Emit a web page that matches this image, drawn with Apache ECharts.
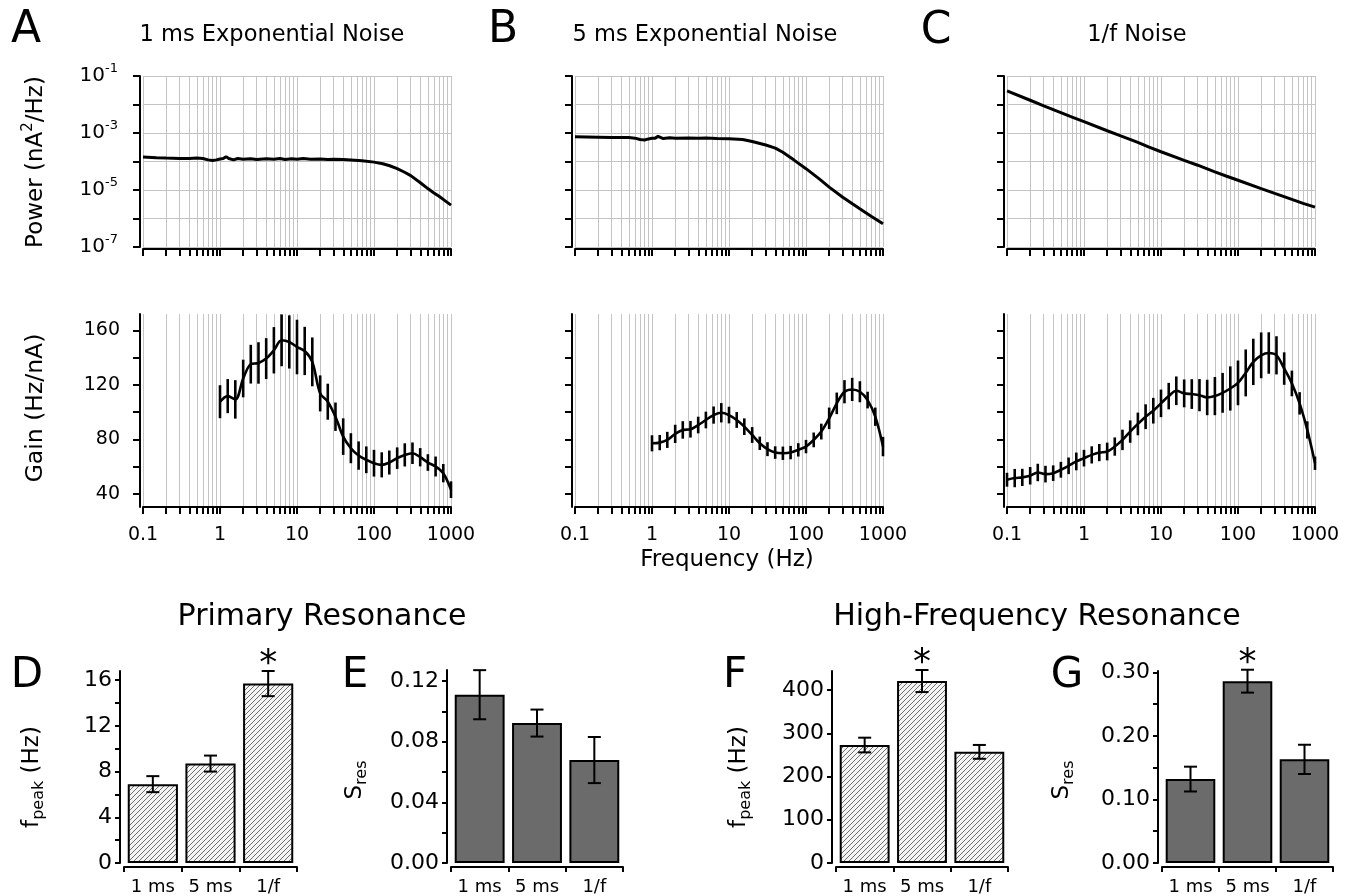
<!DOCTYPE html>
<html>
<head>
<meta charset="utf-8">
<script src="https://cdn.jsdelivr.net/npm/echarts@6/dist/echarts.min.js"></script>
<style>
html, body { margin: 0; padding: 0; background: #fff; }
#main { width: 1346px; height: 896px; }
</style>
</head>
<body>
<div id="main"></div>
<script>
var FONT = '"DejaVu Sans", sans-serif';

// ---- axis ticks ----
var freqTicks = [0.1, 0.2, 0.3, 0.4, 0.5, 0.6, 0.7, 0.8, 0.9, 1, 2, 3, 4, 5, 6, 7, 8, 9, 10,
    20, 30, 40, 50, 60, 70, 80, 90, 100, 200, 300, 400, 500, 600, 700, 800, 900, 1000];
var freqLabels = [0.1, 1, 10, 100, 1000];
var powerTicks = [1e-7, 1e-6, 1e-5, 1e-4, 1e-3, 1e-2, 1e-1];
var powerLabels = [1e-7, 1e-5, 1e-3, 1e-1];
var gainTicks = [40, 60, 80, 100, 120, 140, 160];
var gainLabels = [40, 80, 120, 160];

// ---- power spectra (nA^2/Hz) ----
var powFreqA = [0.1, 0.15, 0.2, 0.3, 0.4, 0.5, 0.6, 0.7, 0.8, 0.9, 1, 1.1, 1.2, 1.3, 1.5, 1.7, 2, 2.5, 3, 4, 5, 6, 7, 8.5,
    10, 12, 15, 20, 25, 30, 40, 50, 70, 100, 130, 160, 200, 250, 300, 400, 500, 600, 700, 800, 1000];
var powA = [1.45e-4, 1.35e-4, 1.32e-4, 1.28e-4, 1.28e-4, 1.32e-4, 1.27e-4, 1.14e-4, 1.09e-4, 1.14e-4, 1.22e-4, 1.27e-4, 1.48e-4,
    1.27e-4, 1.14e-4, 1.27e-4, 1.19e-4, 1.25e-4, 1.17e-4, 1.25e-4, 1.19e-4, 1.28e-4, 1.17e-4, 1.25e-4,
    1.19e-4, 1.27e-4, 1.19e-4, 1.22e-4, 1.17e-4, 1.19e-4, 1.17e-4, 1.13e-4, 1.07e-4, 9.5e-5, 8.3e-5, 7.1e-5,
    5.6e-5, 4.2e-5, 3.2e-5, 1.8e-5, 1.12e-5, 7.9e-6, 6.0e-6, 4.6e-6, 2.95e-6];

var powFreqB = [0.1, 0.2, 0.3, 0.4, 0.5, 0.6, 0.7, 0.8, 0.9, 1, 1.1, 1.2, 1.4, 1.7, 2, 3, 4, 5, 7, 10, 15, 20, 30, 40, 50,
    70, 100, 150, 200, 300, 400, 500, 700, 1000];
var powB = [7.4e-4, 7.1e-4, 6.9e-4, 6.9e-4, 6.9e-4, 6.6e-4, 5.9e-4, 5.7e-4, 6.2e-4, 6.5e-4, 6.6e-4, 7.6e-4, 6.4e-4, 6.8e-4,
    6.6e-4, 6.7e-4, 6.5e-4, 6.7e-4, 6.4e-4, 6.3e-4, 5.9e-4, 5.0e-4, 3.8e-4, 2.95e-4, 2.1e-4, 1.12e-4, 5.6e-5,
    2.4e-5, 1.26e-5, 5.6e-6, 3.3e-6, 2.2e-6, 1.2e-6, 6.5e-7];

var powFreqC = [0.1, 0.2, 0.3, 0.5, 0.7, 1, 2, 3, 5, 7, 10, 20, 30, 50, 70, 100, 200, 300, 500, 700, 1000];
var powC = [3.0e-2, 1.41e-2, 8.9e-3, 5.2e-3, 3.6e-3, 2.5e-3, 1.2e-3, 7.9e-4, 4.7e-4, 3.2e-4, 2.2e-4, 1.1e-4, 7.4e-5,
    4.3e-5, 3.1e-5, 2.2e-5, 1.12e-5, 7.6e-6, 4.7e-6, 3.4e-6, 2.5e-6];

// ---- gain (Hz/nA), mean and error ----
var gainFreq = [1, 1.26, 1.58, 2, 2.51, 3.16, 3.98, 5.01, 6.31, 7.94, 10, 12.6, 15.8, 20, 25.1, 31.6, 39.8, 50.1,
    63.1, 79.4, 100, 126, 158, 200, 251, 316, 398, 501, 631, 794, 1000];
var gainFreqC = [0.1, 0.126, 0.158, 0.2, 0.251, 0.316, 0.398, 0.501, 0.631, 0.794].concat(gainFreq);

var gainA = [107.7, 111.8, 109.4, 124.7, 135.2, 136.1, 139.3, 145.4, 152.7, 151.5, 147.8, 144.9, 136.9, 113.8, 107.7,
    96.7, 82.1, 73.6, 68.2, 65.1, 62.6, 61.4, 63.1, 66.3, 68.7, 69.9, 67.0, 63.1, 60.2, 55.3, 43.2];
var gainErrA = [12.1, 12.5, 14.1, 13.8, 14.2, 15.2, 15, 17, 19, 19.5, 20, 17.7, 17.9, 13.2, 13.2, 10.4, 13.4, 11, 10.4,
    9.8, 9.8, 9.2, 8.8, 7.9, 8.5, 7.9, 6.7, 6.1, 7.3, 6.7, 6.1];

var gainB = [77.2, 77.7, 79.7, 84.1, 87.0, 87.5, 90.6, 94.3, 97.9, 99.6, 97.9, 94.3, 89.4, 83.3, 77.2, 72.9, 70.4, 69.9,
    70.4, 72.4, 74.8, 79.7, 85.8, 95.5, 106.5, 115.0, 116.7, 115.0, 108.9, 96.7, 74.8];
var gainErrB = [5.9, 5.6, 5.9, 6.7, 6.4, 6.1, 6.1, 6.1, 6.3, 7.1, 6.1, 5.8, 6.1, 5.8, 4.9, 5.1, 4.6, 4.9, 4.9, 4.9, 4.9,
    5.4, 5.8, 7.9, 7.9, 8.5, 8.5, 7.7, 6.1, 6.7, 7.1];

var gainC = [50.5, 51.7, 52.2, 53.4, 55.8, 54.6, 55.3, 57.8, 60.7, 63.9, 66.3, 68.7, 70.4, 71.2, 74.8, 79.7, 85.8, 91.4,
    96.7, 101.1, 106.5, 111.8, 115.7, 113.8, 113.3, 112.5, 110.8, 111.8, 114.2, 117.4, 121.5, 128.8, 136.9, 141.7,
    143.4, 141.7, 132.0, 121.1, 106.5, 87.0, 62.6];
var gainErrC = [5.1, 6.7, 6.3, 6.4, 6.4, 6.1, 5.7, 5.8, 6.1, 6.5, 6.1, 6.3, 6.3, 6.5, 6.7, 7.5, 8.2, 8.3, 9.1, 9.4, 10.1,
    9.7, 10.5, 10.2, 10.9, 11.8, 13.0, 14.0, 14.6, 16.2, 16.4, 17.2, 17.0, 16.8, 15.2, 14.0, 11.9, 9.4, 8.2, 6.3, 4.9];

// ---- resonance bars ----
var barCats = ['1 ms', '5 ms', '1/f'];
var fpeakPrim = [6.9, 8.7, 15.7];
var fpeakPrimErr = [0.7, 0.7, 1.1];
var fpeakPrimSig = [0, 0, 1];
var sresPrim = [0.111, 0.0923, 0.0679];
var sresPrimErr = [0.0162, 0.0089, 0.0152];
var sresPrimSig = [0, 0, 0];
var fpeakHigh = [272.8, 420.8, 257];
var fpeakHighErr = [17, 25.5, 16];
var fpeakHighSig = [0, 1, 0];
var sresHigh = [0.132, 0.286, 0.163];
var sresHighErr = [0.0195, 0.018, 0.023];
var sresHighSig = [0, 1, 0];

// 斜线填充
function makeHatch() {
    var c = document.createElement('canvas');
    c.width = 5; c.height = 5;
    var ctx = c.getContext('2d');
    ctx.fillStyle = '#f4f4f4';
    ctx.fillRect(0, 0, 5, 5);
    ctx.strokeStyle = '#6e6e6e';
    ctx.lineWidth = 1;
    ctx.beginPath();
    ctx.moveTo(-1, 6); ctx.lineTo(6, -1);
    ctx.moveTo(-1, 1); ctx.lineTo(1, -1);
    ctx.moveTo(4, 6); ctx.lineTo(6, 4);
    ctx.stroke();
    return c;
}
var hatch = { image: makeHatch(), repeat: 'repeat' };

function zip(xs, ys) {
    return xs.map(function (x, i) { return [x, ys[i]]; });
}
function errData(xs, ys, es) {
    return xs.map(function (x, i) { return [x, ys[i] - es[i], ys[i] + es[i]]; });
}
function barErrData(ys, es, sig) {
    return ys.map(function (y, i) { return [i, y - es[i], y + es[i], sig[i]]; });
}

var axisLineStyle = { color: '#000', width: 2 };
var tickStyle = { color: '#000', width: 2 };
var gridStyle = { color: '#c4c4c4', width: 1 };

function logX(idx, showLabel, off) {
    return {
        type: 'log', logBase: 10, gridIndex: idx, min: 0.1, max: 1000, offset: off,
        axisLine: { show: true, onZero: false, lineStyle: axisLineStyle },
        axisTick: { show: true, inside: false, length: 7, lineStyle: tickStyle, customValues: freqTicks },
        axisLabel: {
            show: showLabel, customValues: freqLabels, margin: 19, color: '#000', fontSize: 19, fontFamily: FONT,
            formatter: function (v) { return String(v); }
        },
        splitLine: { show: true, lineStyle: gridStyle },
        minorTick: { show: false }, minorSplitLine: { show: false }
    };
}
function powerY(idx, showLabel) {
    return {
        type: 'log', logBase: 10, gridIndex: idx, min: 1e-7, max: 1e-1, offset: 3,
        axisLine: { show: true, onZero: false, lineStyle: axisLineStyle },
        axisTick: { show: true, inside: false, length: 7, lineStyle: tickStyle, customValues: powerTicks },
        axisLabel: {
            show: showLabel, customValues: powerLabels, margin: 22, color: '#000', fontFamily: FONT,
            formatter: function (v) { return '{b|10}{e|' + Math.round(Math.log10(v)) + '}'; },
            rich: {
                b: { fontSize: 20, fontFamily: FONT, color: '#000', lineHeight: 28 },
                e: { fontSize: 13, fontFamily: FONT, color: '#000', lineHeight: 13, verticalAlign: 'top' }
            }
        },
        splitLine: { show: true, lineStyle: gridStyle }
    };
}
function gainY(idx, showLabel) {
    return {
        type: 'value', gridIndex: idx, min: 30.5, max: 172, offset: 3,
        axisLine: { show: true, onZero: false, lineStyle: axisLineStyle },
        axisTick: { show: true, inside: false, length: 7, lineStyle: tickStyle, customValues: gainTicks },
        axisLabel: { show: showLabel, customValues: gainLabels, margin: 20, color: '#000', fontSize: 19, fontFamily: FONT },
        splitLine: { show: false }
    };
}
function barX(idx) {
    return {
        type: 'category', gridIndex: idx, data: barCats, offset: 4,
        axisLine: { show: true, onZero: false, lineStyle: axisLineStyle },
        axisTick: { show: true, inside: false, length: 5, lineStyle: tickStyle },
        axisLabel: { interval: 0, margin: 11, color: '#000', fontSize: 18, fontFamily: FONT },
        splitLine: { show: false }
    };
}
function barY(idx, max, ticks, labels, fmt) {
    return {
        type: 'value', gridIndex: idx, min: 0, max: max, offset: 4,
        axisLine: { show: true, onZero: false, lineStyle: axisLineStyle },
        axisTick: { show: true, inside: false, length: 5, lineStyle: tickStyle, customValues: ticks },
        axisLabel: { customValues: labels, margin: 8, color: '#000', fontSize: 22, fontFamily: FONT, formatter: fmt },
        splitLine: { show: false }
    };
}

function lineErrItem(params, api) {
    var x = api.value(0);
    var p1 = api.coord([x, api.value(1)]);
    var p2 = api.coord([x, api.value(2)]);
    return {
        type: 'line',
        shape: { x1: p1[0], y1: p1[1], x2: p2[0], y2: p2[1] },
        style: { stroke: '#000', lineWidth: 2.6 }
    };
}
function barErrItem(params, api) {
    var lo = api.coord([api.value(0), api.value(1)]);
    var hi = api.coord([api.value(0), api.value(2)]);
    var cap = 6.5;
    var st = { stroke: '#000', lineWidth: 2 };
    var kids = [
        { type: 'line', shape: { x1: lo[0], y1: lo[1], x2: hi[0], y2: hi[1] }, style: st },
        { type: 'line', shape: { x1: lo[0] - cap, y1: lo[1], x2: lo[0] + cap, y2: lo[1] }, style: st },
        { type: 'line', shape: { x1: hi[0] - cap, y1: hi[1], x2: hi[0] + cap, y2: hi[1] }, style: st }
    ];
    if (api.value(3)) {
        kids.push({
            type: 'text', x: hi[0], y: hi[1] - 6,
            style: { text: '*', fontSize: 36, fontFamily: FONT, fill: '#000', align: 'center', verticalAlign: 'middle' }
        });
    }
    return { type: 'group', children: kids };
}

function powerSeries(idx, xs, ys) {
    return {
        type: 'line', xAxisIndex: idx, yAxisIndex: idx, data: zip(xs, ys),
        showSymbol: false, lineStyle: { color: '#000', width: 3 }, z: 3
    };
}
function gainSeries(idx, xs, ys, es) {
    return [{
        type: 'line', xAxisIndex: idx, yAxisIndex: idx, data: zip(xs, ys), smooth: 0.35,
        showSymbol: false, lineStyle: { color: '#000', width: 2.6 }, z: 3
    }, {
        type: 'custom', xAxisIndex: idx, yAxisIndex: idx, data: errData(xs, ys, es),
        encode: { x: 0, y: [1, 2] }, renderItem: lineErrItem, z: 4
    }];
}
function barSeries(idx, ys, es, sig, fill) {
    return [{
        type: 'bar', xAxisIndex: idx, yAxisIndex: idx, data: ys, barWidth: '87%',
        itemStyle: { color: fill, borderColor: '#000', borderWidth: 2 }
    }, {
        type: 'custom', xAxisIndex: idx, yAxisIndex: idx, data: barErrData(ys, es, sig),
        encode: { x: 0, y: [1, 2] }, renderItem: barErrItem, z: 5
    }];
}

function txt(x, y, text, size, extra) {
    var o = {
        type: 'text', x: x, y: y,
        style: { text: text, fontSize: size, fontFamily: FONT, fill: '#000', align: 'center', verticalAlign: 'middle' }
    };
    if (extra) {
        for (var k in extra) o[k] = extra[k];
    }
    return o;
}
var subRich = {
    m: { fontSize: 23, fontFamily: FONT, fill: '#000', lineHeight: 30 },
    s: { fontSize: 16, fontFamily: FONT, fill: '#000', lineHeight: 16, verticalAlign: 'bottom' }
};

var myChart = echarts.init(document.getElementById('main'));

var option = {
    animation: false,
    backgroundColor: '#fff',
    grid: [
        { left: 143, top: 76, width: 308, height: 171, outerBoundsMode: 'none' },
        { left: 575, top: 76, width: 308, height: 171, outerBoundsMode: 'none' },
        { left: 1007, top: 76, width: 308, height: 171, outerBoundsMode: 'none' },
        { left: 143, top: 314, width: 308, height: 193, outerBoundsMode: 'none' },
        { left: 575, top: 314, width: 308, height: 193, outerBoundsMode: 'none' },
        { left: 1007, top: 314, width: 308, height: 193, outerBoundsMode: 'none' },
        { left: 124, top: 671, width: 173, height: 192, outerBoundsMode: 'none' },
        { left: 451, top: 670, width: 172, height: 193, outerBoundsMode: 'none' },
        { left: 836, top: 671, width: 172, height: 192, outerBoundsMode: 'none' },
        { left: 1162, top: 671, width: 171, height: 192, outerBoundsMode: 'none' }
    ],
    xAxis: [
        logX(0, false, 2), logX(1, false, 2), logX(2, false, 2),
        logX(3, true, 0), logX(4, true, 0), logX(5, true, 0),
        barX(6), barX(7), barX(8), barX(9)
    ],
    yAxis: [
        powerY(0, true), powerY(1, false), powerY(2, false),
        gainY(3, true), gainY(4, false), gainY(5, false),
        barY(6, 16.8, [0, 2, 4, 6, 8, 10, 12, 14, 16], [0, 4, 8, 12, 16], null),
        barY(7, 0.1273, [0, 0.02, 0.04, 0.06, 0.08, 0.1, 0.12], [0, 0.04, 0.08, 0.12],
            function (v) { return v.toFixed(2); }),
        barY(8, 444, [0, 100, 200, 300, 400], [0, 100, 200, 300, 400], null),
        barY(9, 0.302, [0, 0.05, 0.1, 0.15, 0.2, 0.25, 0.3], [0, 0.1, 0.2, 0.3],
            function (v) { return v.toFixed(2); })
    ],
    series: [
        powerSeries(0, powFreqA, powA),
        powerSeries(1, powFreqB, powB),
        powerSeries(2, powFreqC, powC)
    ].concat(
        gainSeries(3, gainFreq, gainA, gainErrA),
        gainSeries(4, gainFreq, gainB, gainErrB),
        gainSeries(5, gainFreqC, gainC, gainErrC),
        barSeries(6, fpeakPrim, fpeakPrimErr, fpeakPrimSig, hatch),
        barSeries(7, sresPrim, sresPrimErr, sresPrimSig, '#6b6b6b'),
        barSeries(8, fpeakHigh, fpeakHighErr, fpeakHighSig, hatch),
        barSeries(9, sresHigh, sresHighErr, sresHighSig, '#6b6b6b')
    ),
    graphic: [
        txt(26, 31, 'A', 44), txt(503, 31, 'B', 44), txt(936, 32, 'C', 44),
        txt(272, 35, '1 ms Exponential Noise', 22.5),
        txt(705, 35, '5 ms Exponential Noise', 22.5),
        txt(1137, 35, '1/f Noise', 22.5),
        {
            type: 'text', x: 36, y: 162, rotation: Math.PI / 2,
            style: {
                text: '{m|Power (nA}{p|2}{m|/Hz)}', align: 'center', verticalAlign: 'middle',
                rich: {
                    m: { fontSize: 23, fontFamily: FONT, fill: '#000', lineHeight: 30 },
                    p: { fontSize: 15, fontFamily: FONT, fill: '#000', lineHeight: 15, verticalAlign: 'top' }
                }
            }
        },
        txt(36, 408, 'Gain (Hz/nA)', 23.5, { rotation: Math.PI / 2 }),
        txt(727, 560, 'Frequency (Hz)', 23),
        txt(322, 617, 'Primary Resonance', 30),
        txt(1037, 617, 'High-Frequency Resonance', 30),
        txt(27, 676, 'D', 42), txt(355, 676, 'E', 42), txt(735, 676, 'F', 42), txt(1067, 676, 'G', 42),
        {
            type: 'text', x: 32, y: 777, rotation: Math.PI / 2,
            style: { text: '{m|f}{s|peak}{m| (Hz)}', align: 'center', verticalAlign: 'middle', rich: subRich }
        },
        {
            type: 'text', x: 355, y: 780, rotation: Math.PI / 2,
            style: { text: '{m|S}{s|res}', align: 'center', verticalAlign: 'middle', rich: subRich }
        },
        {
            type: 'text', x: 739, y: 777, rotation: Math.PI / 2,
            style: { text: '{m|f}{s|peak}{m| (Hz)}', align: 'center', verticalAlign: 'middle', rich: subRich }
        },
        {
            type: 'text', x: 1062, y: 780, rotation: Math.PI / 2,
            style: { text: '{m|S}{s|res}', align: 'center', verticalAlign: 'middle', rich: subRich }
        }
    ]
};

myChart.setOption(option);
window.addEventListener('resize', function () {
    myChart.resize();
});
</script>
</body>
</html>
